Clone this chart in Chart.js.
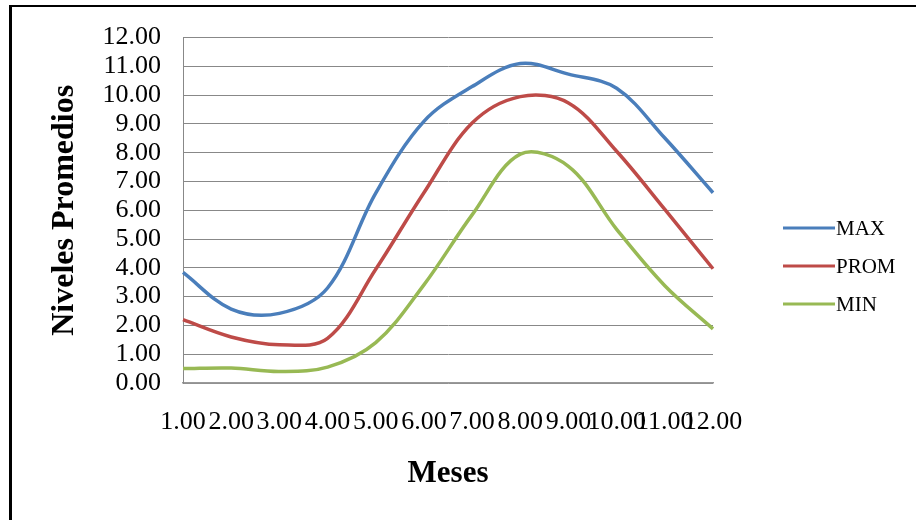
<!DOCTYPE html>
<html lang="es">

<head>
  <meta charset="UTF-8">
  <title>Niveles Promedios</title>
  <script src="https://cdn.jsdelivr.net/npm/chart.js"></script>
  <style>
    body {
      margin: 0;
      background: #fff;
      overflow: hidden;
    }
    .marco {
      position: absolute;
      left: 9px;
      top: 5px;
      width: 1000px;
      height: 600px;
      border-left: 3px solid #000;
      border-top: 2px solid #000;
    }
    .lienzo {
      position: absolute;
      left: 0;
      top: 0;
      width: 916px;
      height: 520px;
    }
  </style>
</head>

<body>
  <div class="marco"></div>
  <div class="lienzo">
    <canvas id="niveles-grafico" width="916" height="520"></canvas>
  </div>

  <script>
    // Datos
    const meses = [1, 2, 3, 4, 5, 6, 7, 8, 9, 10, 11, 12];
    const nivelMax = [3.84, 2.57, 2.42, 3.3, 6.6, 9.09, 10.3, 11.1, 10.73, 10.24, 8.51, 6.61];
    const nivelProm = [2.2, 1.6, 1.33, 1.55, 3.95, 6.61, 9.03, 9.95, 9.73, 8.05, 6.03, 3.97];
    const nivelMin = [0.5, 0.52, 0.4, 0.55, 1.4, 3.41, 5.84, 7.95, 7.53, 5.34, 3.38, 1.88];
    const series = ['MAX', 'PROM', 'MIN'];
    const colores = ['#4A7EBB', '#BE4B48', '#98B954'];

    const fuente = "'Liberation Serif', 'Times New Roman', serif";

    // Leyenda dibujada a mano (linea + texto) a la derecha del area del grafico
    const leyendaPlugin = {
      id: 'leyendaLineas',
      afterDraw(chart) {
        const ctx = chart.ctx;
        const area = chart.chartArea;
        ctx.save();
        ctx.font = '21px ' + fuente;
        ctx.textBaseline = 'middle';
        ctx.textAlign = 'left';
        chart.data.datasets.forEach((ds, i) => {
          const y = 228 + i * 38;
          const x0 = area.right + 70;
          ctx.strokeStyle = ds.borderColor;
          ctx.lineWidth = 3;
          ctx.beginPath();
          ctx.moveTo(x0, y);
          ctx.lineTo(x0 + 52, y);
          ctx.stroke();
          ctx.fillStyle = '#000';
          ctx.fillText(ds.label, x0 + 53, y + 1);
        });
        ctx.restore();
      }
    };

    const datos = [nivelMax, nivelProm, nivelMin];

    new Chart(document.getElementById('niveles-grafico'), {
      type: 'line',
      data: {
        labels: meses,
        datasets: series.map((nombre, i) => ({
          label: nombre,
          data: datos[i],
          borderColor: colores[i],
          backgroundColor: colores[i],
          borderWidth: 3.5,
          pointRadius: 0,
          tension: 0.35,
          fill: false
        }))
      },
      options: {
        responsive: false,
        animation: false,
        layout: { padding: { top: 36, right: 203, left: 0, bottom: 0 } },
        plugins: {
          legend: { display: false },
          tooltip: { enabled: false }
        },
        scales: {
          x: {
            offset: false,
            grid: { display: false, drawTicks: false },
            border: { display: true, color: '#9a9a9a', width: 1.5 },
            ticks: {
              autoSkip: false,
              maxRotation: 0,
              minRotation: 0,
              padding: 24,
              color: '#000',
              font: { family: fuente, size: 26 },
              callback: (v, i) => meses[i].toFixed(2)
            },
            title: {
              display: true,
              text: 'Meses',
              color: '#000',
              font: { family: fuente, size: 31, weight: 'bold' },
              padding: { top: 0, bottom: 27 }
            },
            afterFit: scale => { scale.height = 137; }
          },
          y: {
            min: 0,
            max: 12,
            grid: { color: '#888', lineWidth: 1, drawTicks: false },
            border: { display: true, color: '#888', width: 1 },
            ticks: {
              stepSize: 1,
              autoSkip: false,
              padding: 22,
              color: '#000',
              font: { family: fuente, size: 26 },
              callback: v => v.toFixed(2)
            },
            title: {
              display: true,
              text: 'Niveles Promedios',
              color: '#000',
              font: { family: fuente, size: 32, weight: 'bold' },
              padding: { top: 46, bottom: 0 }
            },
            afterFit: scale => { scale.width = 183; }
          }
        }
      },
      plugins: [leyendaPlugin]
    });
  </script>
</body>

</html>
